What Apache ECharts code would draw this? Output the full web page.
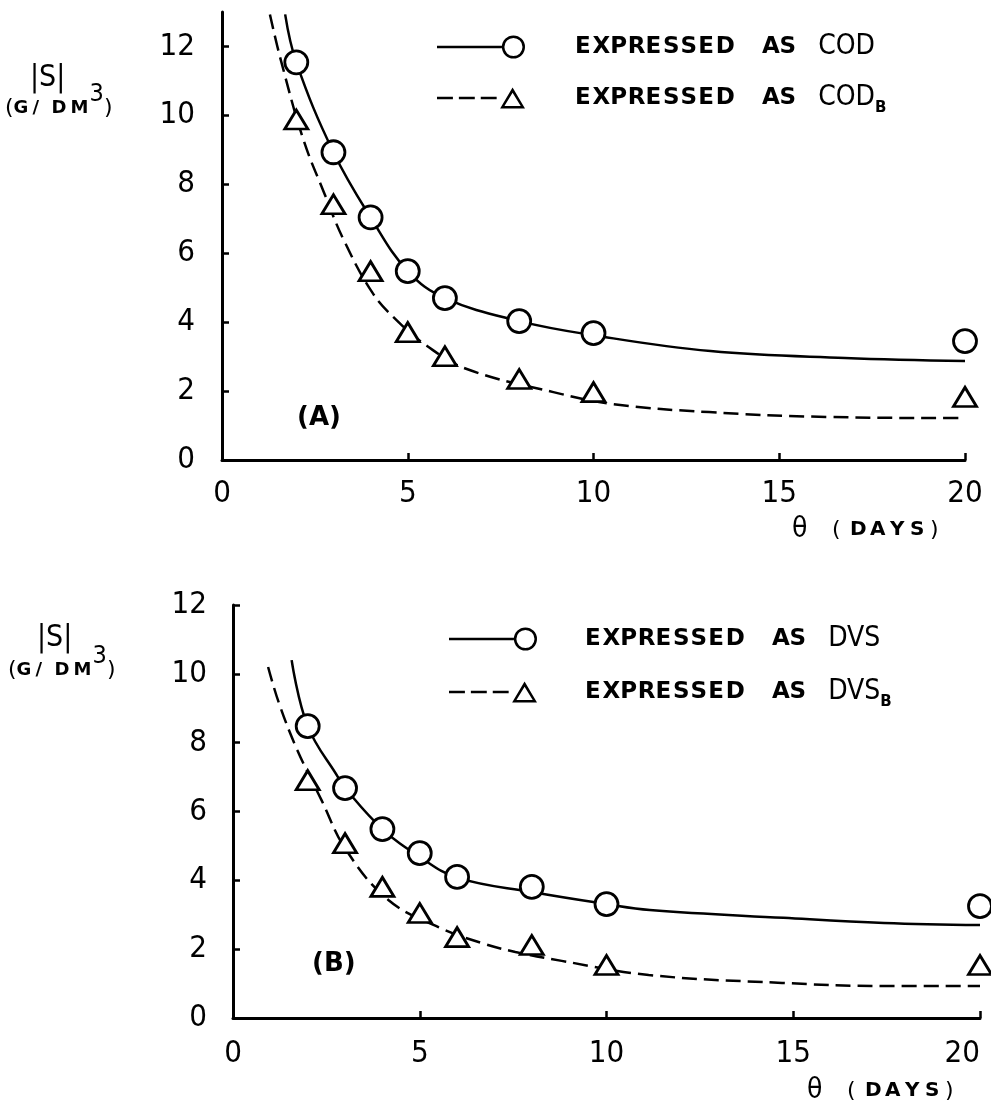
<!DOCTYPE html>
<html>
<head>
<meta charset="utf-8">
<script src="https://cdn.jsdelivr.net/npm/echarts@6/dist/echarts.min.js"></script>
<style>
    html, body { margin: 0; padding: 0; background: #fff; }
    #chart { width: 991px; height: 1107px; }
</style>
</head>
<body>
<div id="chart"></div>
<script>
// 实测点 (theta, days)
var days = [2, 3, 4, 5, 6, 8, 10, 20];
var codA = [11.54, 8.93, 7.04, 5.48, 4.70, 4.03, 3.68, 3.45];
var codbA = [9.88, 7.42, 5.48, 3.71, 3.01, 2.35, 1.97, 1.83];
var dvsB = [8.48, 6.68, 5.49, 4.79, 4.10, 3.81, 3.31, 3.25];
var dvsbB = [6.91, 5.08, 3.81, 3.05, 2.35, 2.12, 1.54, 1.54];

// 拟合曲线 [theta, S]
var codCurve = [[1.70, 12.93], [2, 11.54], [3, 8.93], [4, 7.04], [5, 5.48],
    [6, 4.70], [8, 4.03], [10, 3.62], [13.15, 3.16], [16.77, 2.96], [20, 2.87]];
var codbCurve = [[1.29, 12.93], [1.58, 11.62], [2.19, 9.30], [2.75, 7.75], [3.27, 6.40], [4.04, 4.87],
    [4.67, 4.09], [5.53, 3.30], [6.59, 2.64], [8.92, 1.97], [10.53, 1.62], [13.11, 1.39], [16.26, 1.25],
    [19.57, 1.22], [20, 1.22]];
var dvsCurve = [[1.57, 10.40], [2, 8.48], [2.81, 7.00], [3, 6.68], [4, 5.49], [5, 4.68], [6, 4.08],
    [8, 3.66], [10, 3.31], [11.16, 3.14], [14.74, 2.91], [17.43, 2.76], [20, 2.70]];
var dvsbCurve = [[0.94, 10.20], [1.23, 9.15], [1.72, 7.79], [2.37, 6.33], [3.03, 4.88], [4.16, 3.43],
    [5.50, 2.64], [6.65, 2.18], [7.56, 1.92], [8.80, 1.66], [11.13, 1.25], [14.70, 1.02], [17.39, 0.93],
    [20, 0.93]];

// 刻度
var yTicks = [0, 2, 4, 6, 8, 10, 12];

var black = '#000';
var numFont = 'DejaVu Sans Condensed';

// legend icons: line + open marker
var circleIcon = 'path://M0 10.8 L64.5 10.8 L64.5 13.2 L0 13.2 Z' +
    ' M87.5 12 A11.5 11.5 0 1 0 64.5 12 A11.5 11.5 0 1 0 87.5 12 Z' +
    ' M85 12 A9 9 0 1 1 67 12 A9 9 0 1 1 85 12 Z';
var triangleIcon = 'path://M0 10.8 L16 10.8 L16 13.2 L0 13.2 Z' +
    ' M22 10.8 L38 10.8 L38 13.2 L22 13.2 Z' +
    ' M44 10.8 L60 10.8 L60 13.2 L44 13.2 Z' +
    ' M63.5 22.5 L88.5 22.5 L76 1.5 Z' +
    ' M67.8 20 L76 6.6 L84.2 20 Z';

var spaced = function (str, style) {
    return str.split('').map(function (c) {
        return '{' + style + '|' + c + '}';
    }).join('');
};

var rich = {
    g: {width: 45, lineHeight: 36},
    g2: {width: 43, lineHeight: 36},
    l: {fontFamily: 'DejaVu Sans', fontWeight: 'bold', fontSize: 23, width: 17.6, lineHeight: 36, color: black},
    w1: {width: 28.6, lineHeight: 36},
    w2: {width: 21, lineHeight: 36},
    c: {fontFamily: numFont, fontWeight: 'normal', fontSize: 28, lineHeight: 36, color: black},
    b: {fontFamily: 'DejaVu Sans', fontWeight: 'bold', fontSize: 15, lineHeight: 14, verticalAlign: 'bottom', color: black},
    s: {fontFamily: numFont, fontWeight: 'normal', fontSize: 30, lineHeight: 34, color: black},
    p: {fontFamily: 'DejaVu Sans', fontWeight: 'normal', fontSize: 22, lineHeight: 34, color: black},
    pw: {fontFamily: 'DejaVu Sans', fontWeight: 'normal', fontSize: 22, width: 18, lineHeight: 34, color: black},
    u: {fontFamily: 'DejaVu Sans', fontWeight: 'bold', fontSize: 18, width: 19, lineHeight: 34, color: black},
    sup: {fontFamily: numFont, fontWeight: 'normal', fontSize: 25, lineHeight: 20, padding: [0, 0, 28, 0], color: black},
    th: {fontFamily: numFont, fontWeight: 'normal', fontSize: 28, width: 40, lineHeight: 34, color: black},
    d: {fontFamily: 'DejaVu Sans', fontWeight: 'bold', fontSize: 20, width: 20, lineHeight: 34, color: black},
    pa: {fontFamily: 'DejaVu Sans', fontWeight: 'bold', fontSize: 26, lineHeight: 34, color: black}
};

var legendLabel = function (gap, word, sub) {
    return '{' + gap + '| }' + spaced('EXPRESSED', 'l') + '{w1| }' + spaced('AS', 'l') + '{w2| }' +
        '{c|' + word + '}' + (sub ? '{b|' + sub + '}' : '');
};

var legendOf = function (name, icon, left, top, label) {
    return {
        data: [{name: name, icon: icon}],
        left: left,
        top: top,
        padding: 0,
        itemWidth: 88,
        itemHeight: 24,
        selectedMode: false,
        itemStyle: {color: black, borderWidth: 0},
        formatter: function () {
            return label;
        },
        textStyle: {color: black, fontWeight: 'normal', rich: rich}
    };
};

var titleOf = function (text, left, top) {
    return {
        text: text, left: left, top: top, padding: 0,
        textStyle: {color: black, fontWeight: 'normal', rich: rich}
    };
};

var xAxisOf = function (gridIndex, margin, alignMax) {
    return {
        gridIndex: gridIndex,
        type: 'value',
        min: 0,
        max: 20,
        interval: 5,
        axisLine: {onZero: false, lineStyle: {color: black, width: 3}},
        axisTick: {inside: true, length: 7, lineStyle: {color: black, width: 2.5}},
        axisLabel: {color: black, fontFamily: numFont, fontSize: 31, margin: margin, alignMaxLabel: alignMax},
        splitLine: {show: false}
    };
};

var yAxisOf = function (gridIndex, max, margin) {
    return {
        gridIndex: gridIndex,
        type: 'value',
        min: 0,
        max: max,
        interval: 2,
        axisLine: {show: true, onZero: false, lineStyle: {color: black, width: 3}},
        axisTick: {show: true, inside: true, length: 7, customValues: yTicks, lineStyle: {color: black, width: 2.5}},
        axisLabel: {
            color: black, fontFamily: numFont, fontSize: 31, margin: margin, customValues: yTicks,
            formatter: function (v) {
                return v > 12 ? '' : v;
            }
        },
        splitLine: {show: false}
    };
};

var markerSeries = function (name, index, values, symbol, size) {
    return {
        name: name,
        type: 'scatter',
        xAxisIndex: index,
        yAxisIndex: index,
        data: days.map(function (d, i) {
            return [d, values[i]];
        }),
        symbol: symbol,
        symbolSize: size,
        itemStyle: {color: '#fff', borderColor: black, borderWidth: 2.8, opacity: 1},
        z: 3,
        silent: true
    };
};

var curveSeries = function (name, index, points, dashed) {
    return {
        name: name,
        type: 'line',
        xAxisIndex: index,
        yAxisIndex: index,
        data: points,
        showSymbol: false,
        symbol: 'none',
        smooth: 0.4,
        lineStyle: {color: black, width: 2.5, type: dashed ? [15, 7] : 'solid'},
        itemStyle: {color: black},
        z: 2,
        silent: true
    };
};

var option = {
    backgroundColor: '#fff',
    animation: false,
    grid: [
        {left: 222, top: 12, width: 743, height: 448, outerBoundsMode: 'none'},
        {left: 233, top: 605, width: 747, height: 413, outerBoundsMode: 'none'}
    ],
    xAxis: [xAxisOf(0, 18, null), xAxisOf(1, 20, 'right')],
    yAxis: [yAxisOf(0, 13, 27), yAxisOf(1, 12, 26)],
    legend: [
        legendOf('COD', circleIcon, 437, 33, legendLabel('g', 'COD')),
        legendOf('CODB', triangleIcon, 437, 84, legendLabel('g', 'COD', 'B')),
        legendOf('DVS', circleIcon, 449, 625, legendLabel('g2', 'DVS')),
        legendOf('DVSB', triangleIcon, 449, 678, legendLabel('g2', 'DVS', 'B'))
    ],
    title: [
        titleOf('{s||S|}', 30, 61),
        titleOf('{p|(}' + spaced('G/DM', 'u') + '{sup|3}{p|)}', 5, 91),
        titleOf('{pa|(A)}', 297, 401),
        titleOf('{th|θ}{pw|(}' + spaced('DAYS', 'd') + '{p|)}', 792, 513),
        titleOf('{s||S|}', 37, 621),
        titleOf('{p|(}' + spaced('G/DM', 'u') + '{sup|3}{p|)}', 8, 653),
        titleOf('{pa|(B)}', 312, 947),
        titleOf('{th|θ}{pw|(}' + spaced('DAYS', 'd') + '{p|)}', 807, 1074)
    ],
    series: [
        curveSeries('COD', 0, codCurve, false),
        curveSeries('CODB', 0, codbCurve, true),
        markerSeries('COD data', 0, codA, 'circle', 23),
        markerSeries('CODB data', 0, codbA, 'triangle', [23, 19]),
        curveSeries('DVS', 1, dvsCurve, false),
        curveSeries('DVSB', 1, dvsbCurve, true),
        markerSeries('DVS data', 1, dvsB, 'circle', 23),
        markerSeries('DVSB data', 1, dvsbB, 'triangle', [23, 19])
    ]
};

var chart = echarts.init(document.getElementById('chart'));
chart.setOption(option);
</script>
</body>
</html>
